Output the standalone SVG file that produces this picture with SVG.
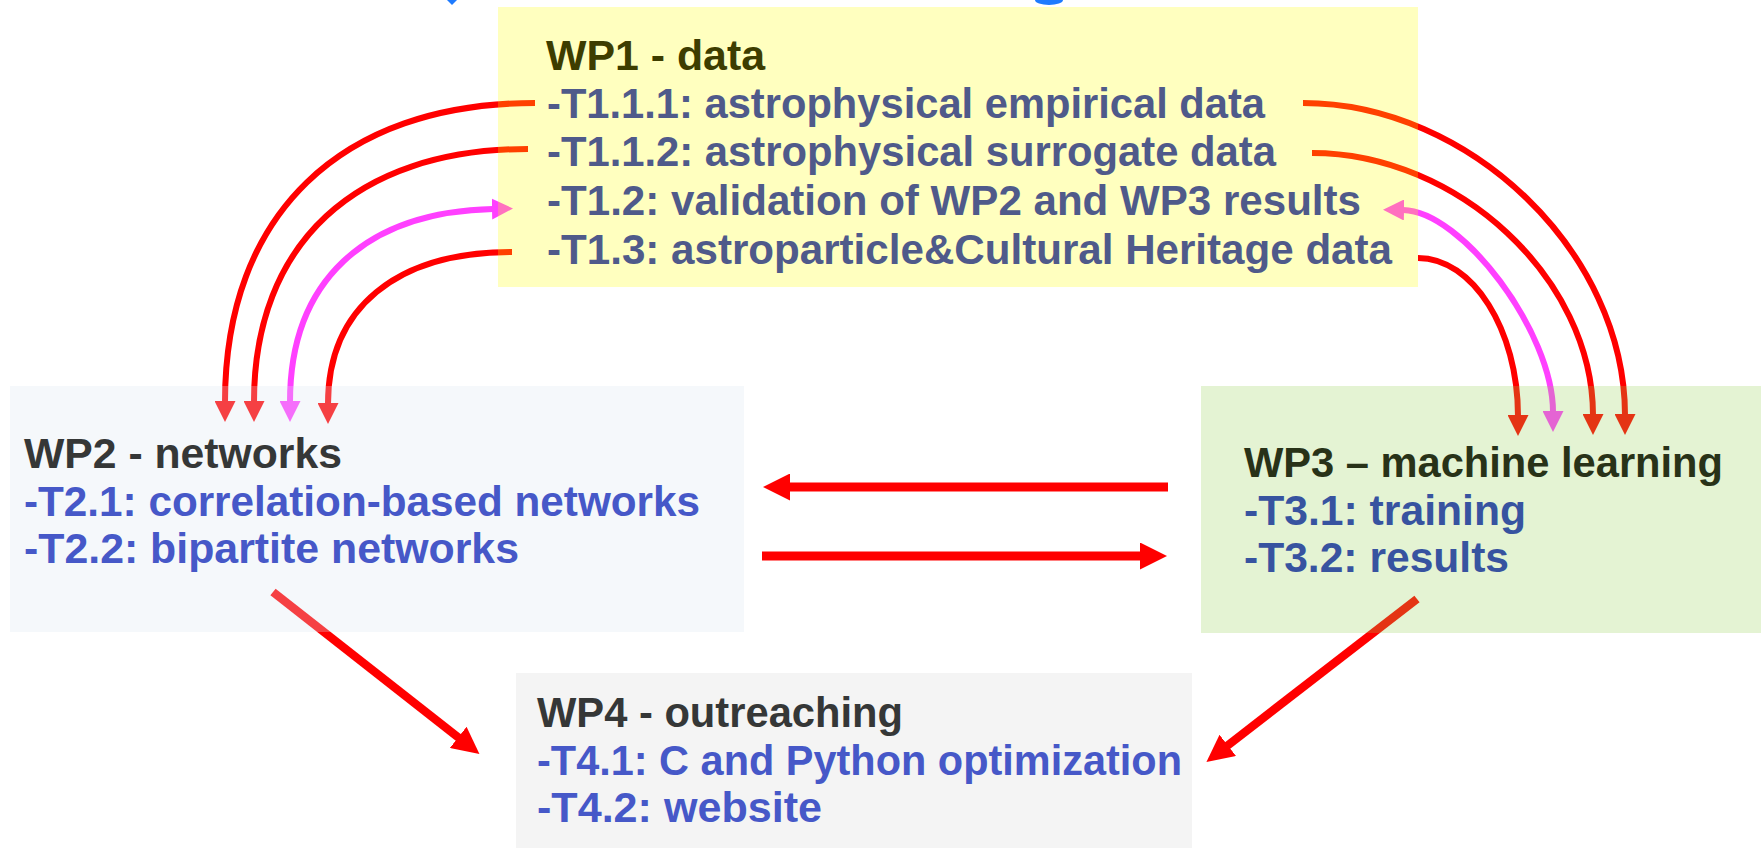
<svg xmlns="http://www.w3.org/2000/svg" width="1761" height="848" viewBox="0 0 1761 848">
<style>
text{font-family:"Liberation Sans",Arial,sans-serif;font-weight:bold;font-size:43px}
.arc{fill:none;stroke:#FF0000;stroke-width:6}
.arcm{fill:none;stroke:#FF40FF;stroke-width:6}
.thick{fill:none;stroke:#FF0000;stroke-width:9}
.diag{fill:none;stroke:#FF0000;stroke-width:8.5}
.t1h{fill:#3D3D00}.t1{fill:#4F5A8A}
.t2h{fill:#353737}.t2{fill:#4658C8}
.t3h{fill:#283218}.t3{fill:#3753A0}
</style>
<defs>
<marker id="ar" markerUnits="userSpaceOnUse" markerWidth="21" markerHeight="21" viewBox="0 0 21 21" refX="1" refY="10.5" orient="auto"><path d="M0,0 L21,10.5 L0,21 z" fill="#FF0000"/></marker>
<marker id="am" markerUnits="userSpaceOnUse" markerWidth="21" markerHeight="21" viewBox="0 0 21 21" refX="1" refY="10.5" orient="auto-start-reverse"><path d="M0,0 L21,10.5 L0,21 z" fill="#FF40FF"/></marker>
<marker id="ab" markerUnits="userSpaceOnUse" markerWidth="27" markerHeight="27" viewBox="0 0 27 27" refX="1" refY="13.5" orient="auto"><path d="M0,0 L27,13.5 L0,27 z" fill="#FF0000"/></marker>
</defs>
<rect width="1761" height="848" fill="#FFFFFF"/>
<path d="M447,0 L457,0 L452,5 z" fill="#1E7BFF"/>
<path d="M1035,0 A14,5 0 0 0 1063,0 z" fill="#1E7BFF"/>
<g id="connectors">
<path class="arc" d="M535,103 C340,103 225,215 225,402" marker-end="url(#ar)"/>
<path class="arc" d="M528,149 C355,149 254,244 254,402" marker-end="url(#ar)"/>
<path class="arcm" d="M493,209 C365,212 290,281 290,402" marker-start="url(#am)" marker-end="url(#am)"/>
<path class="arc" d="M512,252 C396,252 328,308 328,404" marker-end="url(#ar)"/>
<path class="arc" d="M1303,103 C1470,103 1625,253 1625,415" marker-end="url(#ar)"/>
<path class="arc" d="M1312,153 C1458,153 1593,279 1593,415" marker-end="url(#ar)"/>
<path class="arcm" d="M1403,210 C1462,211 1553,332 1553,412" marker-start="url(#am)" marker-end="url(#am)"/>
<path class="arc" d="M1418,258 C1473,258 1518,330 1518,416" marker-end="url(#ar)"/>
<path class="thick" d="M1168,487 L789,487" marker-end="url(#ab)"/>
<path class="thick" d="M762,556 L1141,556" marker-end="url(#ab)"/>
<path class="diag" d="M273,592 L459,738" marker-end="url(#ab)"/>
<path class="diag" d="M1417,599 L1227,746" marker-end="url(#ab)"/>
</g>
<g id="wp1">
<rect x="498" y="7" width="920" height="280" fill="#FFFF00" fill-opacity="0.25"/>
<text class="t1h" x="546" y="70" textLength="219" lengthAdjust="spacingAndGlyphs">WP1 - data</text>
<text class="t1" x="547" y="118" textLength="718" lengthAdjust="spacingAndGlyphs">-T1.1.1: astrophysical empirical data</text>
<text class="t1" x="547" y="166" textLength="729" lengthAdjust="spacingAndGlyphs">-T1.1.2: astrophysical surrogate data</text>
<text class="t1" x="547" y="215" textLength="814" lengthAdjust="spacingAndGlyphs">-T1.2: validation of WP2 and WP3 results</text>
<text class="t1" x="547" y="264" textLength="845" lengthAdjust="spacingAndGlyphs">-T1.3: astroparticle&amp;Cultural Heritage data</text>
</g>
<g id="wp2">
<rect x="10" y="386" width="734" height="246" fill="#DCE6F2" fill-opacity="0.28"/>
<text class="t2h" x="24" y="468" textLength="318" lengthAdjust="spacingAndGlyphs">WP2 - networks</text>
<text class="t2" x="24" y="516" textLength="676" lengthAdjust="spacingAndGlyphs">-T2.1: correlation-based networks</text>
<text class="t2" x="24" y="563" textLength="495" lengthAdjust="spacingAndGlyphs">-T2.2: bipartite networks</text>
</g>
<g id="wp3">
<rect x="1201" y="386" width="560" height="247" fill="#92D050" fill-opacity="0.25"/>
<text class="t3h" x="1244" y="477" textLength="479" lengthAdjust="spacingAndGlyphs">WP3 – machine learning</text>
<text class="t3" x="1244" y="525" textLength="282" lengthAdjust="spacingAndGlyphs">-T3.1: training</text>
<text class="t3" x="1244" y="572" textLength="265" lengthAdjust="spacingAndGlyphs">-T3.2: results</text>
</g>
<g id="wp4">
<rect x="516" y="673" width="676" height="175" fill="#F4F4F4"/>
<text class="t2h" x="537" y="727" textLength="366" lengthAdjust="spacingAndGlyphs">WP4 - outreaching</text>
<text class="t2" x="537" y="775" textLength="645" lengthAdjust="spacingAndGlyphs">-T4.1: C and Python optimization</text>
<text class="t2" x="537" y="822" textLength="285" lengthAdjust="spacingAndGlyphs">-T4.2: website</text>
</g>
</svg>
